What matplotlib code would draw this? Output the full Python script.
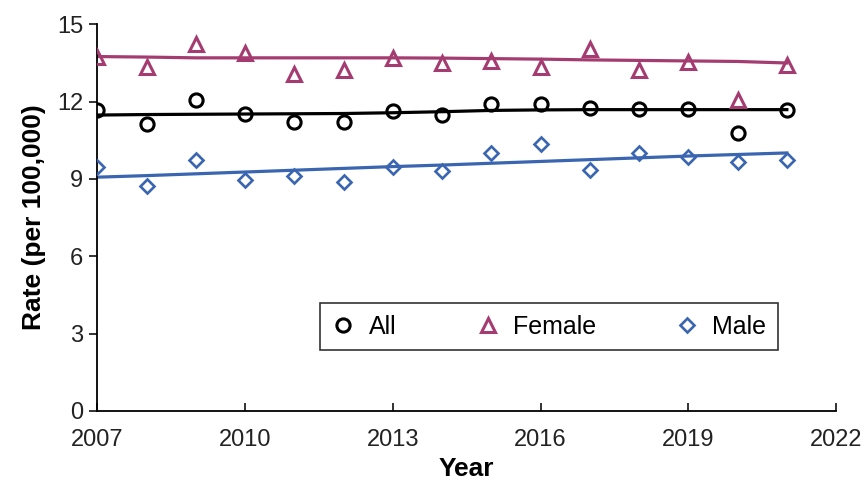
import numpy as np
import matplotlib.pyplot as plt

plt.rcParams['font.family'] = ['Liberation Sans', 'DejaVu Sans']

# 数据
years = np.arange(2007, 2022)
rate_all = [11.66, 11.12, 12.05, 11.53, 11.21, 11.21, 11.63, 11.47, 11.92, 11.92, 11.76, 11.72, 11.72, 10.78, 11.66]
rate_female = [13.74, 13.34, 14.22, 13.89, 13.09, 13.24, 13.71, 13.50, 13.58, 13.34, 14.05, 13.24, 13.54, 12.07, 13.41]
rate_male = [9.46, 8.71, 9.72, 8.97, 9.13, 8.87, 9.46, 9.30, 10.00, 10.34, 9.35, 10.00, 9.85, 9.65, 9.74]
# 拟合趋势线
trend_all = [11.48, 11.50, 11.51, 11.52, 11.53, 11.54, 11.57, 11.61, 11.66, 11.68, 11.69, 11.69, 11.69, 11.69, 11.69]
trend_female = [13.75, 13.73, 13.70, 13.70, 13.70, 13.70, 13.70, 13.69, 13.67, 13.65, 13.62, 13.60, 13.58, 13.56, 13.50]
trend_male = [9.07, 9.13, 9.20, 9.27, 9.34, 9.41, 9.48, 9.54, 9.61, 9.68, 9.75, 9.82, 9.89, 9.95, 10.01]

c_all = 'black'
c_female = '#A43C72'
c_male = '#3A65B0'

fig = plt.figure(figsize=(8.64, 4.82), dpi=100)
ax = fig.add_axes([0.1127, 0.1475, 0.855, 0.802])

ax.plot(years, trend_female, color=c_female, lw=2.3, zorder=2)
ax.plot(years, trend_all, color=c_all, lw=2.3, zorder=2)
ax.plot(years, trend_male, color=c_male, lw=2.3, zorder=2)

mew = 2.2
ax.plot(years, rate_all, ls='none', marker='o', ms=9.5, mfc='none', mec=c_all, mew=mew, label='All', zorder=3)
ax.plot(years, rate_female, ls='none', marker='^', ms=10.5, mfc='none', mec=c_female, mew=mew, label='Female', zorder=3)
ax.plot(years, rate_male, ls='none', marker='D', ms=7.5, mfc='none', mec=c_male, mew=1.9, label='Male', zorder=3)

ax.set_xlim(2007, 2022)
ax.set_ylim(0, 15)
ax.set_xticks(np.arange(2007, 2023, 3))
ax.set_yticks(np.arange(0, 16, 3))
ax.spines['top'].set_visible(False)
ax.spines['right'].set_visible(False)
ax.spines['left'].set_linewidth(1.3)
ax.spines['bottom'].set_linewidth(1.3)
ax.tick_params(axis='x', direction='in', length=6, width=1.3, labelsize=17, pad=13, colors='#222222')
ax.tick_params(axis='y', direction='out', length=6, width=1.3, labelsize=17, pad=4, colors='#222222')
for t in ax.get_xticklines() + ax.get_yticklines():
    t.set_color('black')

ax.set_xlabel('Year', fontsize=19, fontweight='bold', labelpad=4)
ax.set_ylabel('Rate (per 100,000)', fontsize=19, fontweight='bold', labelpad=8)

leg = ax.legend(loc='center', bbox_to_anchor=(0.301, 0.1575, 0.62, 0.1216), mode='expand', ncol=3,
                fontsize=18, frameon=True, fancybox=False, edgecolor='black', handlelength=1.0,
                handletextpad=0.5, borderpad=0.45, borderaxespad=0)
leg.get_frame().set_linewidth(1.2)

fig.savefig('out.png', dpi=100)
